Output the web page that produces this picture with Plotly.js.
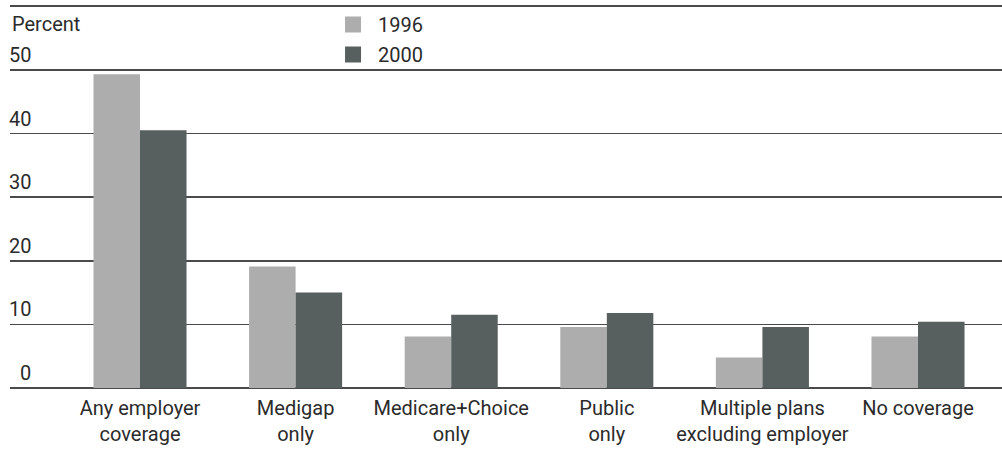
<!DOCTYPE html>
<html>
<head>
<meta charset="utf-8">
<script src="https://cdn.plot.ly/plotly-3.0.1.min.js"></script>
<style>html,body{margin:0;padding:0;background:#fff;}#chart{width:1002px;height:449px;}</style>
</head>
<body>
<div id="chart"></div>
<script>
const categories = ["Any employer<br>coverage", "Medigap<br>only", "Medicare+Choice<br>only", "Public<br>only", "Multiple plans<br>excluding employer", "No coverage"];
const values1996 = [49.3, 19.1, 8.1, 9.6, 4.8, 8.1];
const values2000 = [40.5, 15.0, 11.5, 11.8, 9.6, 10.4];
const seriesNames = ["1996", "2000"];
const seriesColors = ["#adadad", "#58605f"];
const yTickValues = [0, 10, 20, 30, 40, 50];
const yAxisLabel = "Percent";

const FONT = "Roboto, Liberation Sans, Arial, sans-serif";
const FS = 20;
const TXT = "#2b2b2b";
const GRID = "#4a4a4a";

const traces = [
  {type: "bar", name: seriesNames[0], x: categories, y: values1996,
   marker: {color: seriesColors[0]}, showlegend: false, hoverinfo: "y"},
  {type: "bar", name: seriesNames[1], x: categories, y: values2000,
   marker: {color: seriesColors[1]}, showlegend: false, hoverinfo: "y"},
  {type: "scatter", mode: "markers", name: seriesNames[0], x: [categories[0]], y: [null],
   marker: {symbol: "square", size: 16, color: seriesColors[0]}, legendgroup: "a", hoverinfo: "skip"},
  {type: "scatter", mode: "markers", name: seriesNames[1], x: [categories[0]], y: [null],
   marker: {symbol: "square", size: 16, color: seriesColors[1]}, legendgroup: "b", hoverinfo: "skip"}
];

const annotations = yTickValues.map(v => ({
  xref: "paper", yref: "y", x: 0.0232, y: v, xanchor: "right", yanchor: "middle",
  yshift: 15, text: String(v), showarrow: false,
  font: {family: FONT, size: FS, color: TXT}
}));
annotations.push({
  xref: "paper", yref: "y", x: 0, y: 60, xanchor: "left", yanchor: "middle",
  yshift: -18, text: yAxisLabel, showarrow: false,
  font: {family: FONT, size: FS, color: TXT}
});

const layout = {
  width: 1002, height: 449,
  margin: {l: 10, r: 0, t: 5, b: 61, pad: 0},
  paper_bgcolor: "#fff", plot_bgcolor: "#fff",
  font: {family: FONT, size: FS, color: TXT},
  barmode: "group", bargap: 0.402, bargroupgap: 0,
  showlegend: true,
  legend: {x: 0.3206, y: 1, xanchor: "left", yanchor: "top", orientation: "v",
           traceorder: "grouped", tracegroupgap: 1, itemsizing: "trace", itemwidth: 40,
           bgcolor: "rgba(0,0,0,0)",
           font: {family: FONT, size: FS, color: TXT}},
  xaxis: {range: [-0.8355, 5.5398], showgrid: false, zeroline: false, showline: false,
          ticks: "", ticklabelstandoff: 6,
          tickfont: {family: FONT, size: FS, color: TXT}, fixedrange: true},
  yaxis: {range: [0, 60.2], tickvals: [0, 10, 20, 30, 40, 50, 60], showticklabels: false,
          showgrid: true, gridcolor: GRID, gridwidth: 1.7, zeroline: true,
          zerolinecolor: GRID, zerolinewidth: 1.7, showline: false, ticks: "", fixedrange: true},
  annotations: annotations
};

Plotly.newPlot("chart", traces, layout, {displayModeBar: false, staticPlot: true});
</script>
</body>
</html>
